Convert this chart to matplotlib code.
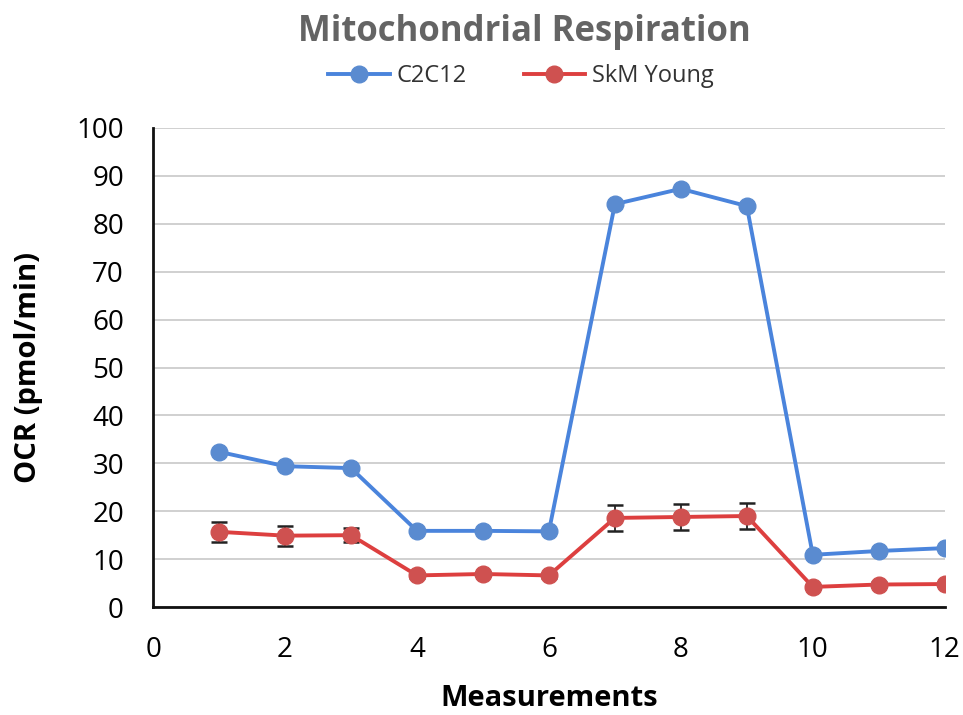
import matplotlib
matplotlib.use("Agg")
import matplotlib.pyplot as plt

measurements = list(range(1, 13))
c2c12 = [32.4, 29.4, 29.0, 15.9, 15.9, 15.8, 84.1, 87.3, 83.7, 10.9, 11.7, 12.3]
skm_young = [15.7, 14.9, 15.0, 6.6, 6.9, 6.6, 18.6, 18.8, 19.0, 4.2, 4.7, 4.8]
skm_err = [2.1, 2.1, 1.5, 0.5, 0.5, 0.5, 2.7, 2.7, 2.7, 0.5, 0.5, 0.5]

plt.rcParams["font.family"] = ["Open Sans", "DejaVu Sans"]

fig = plt.figure(figsize=(9.63, 7.15), dpi=100)
ax = fig.add_axes([0.159, 0.151, 0.822, 0.670])

ax.plot(measurements, c2c12, color="#4a84dc", lw=2.8, marker="o", ms=12,
        mfc="#5a8bd0", mec="#5a8bd0", label="C2C12", zorder=3)
# error bars first, then the line on top so the legend shows a plain line
ax.errorbar(measurements, skm_young, yerr=skm_err, fmt="none",
            ecolor="#222222", elinewidth=1.3, capsize=6, capthick=1.8, zorder=2)
ax.plot(measurements, skm_young, color="#dd3f3f", lw=2.8, marker="o", ms=12,
        mfc="#cf5150", mec="#cf5150", label="SkM Young", zorder=3)

ax.set_xlim(0, 12)
ax.set_ylim(0, 100)
ax.set_xticks(range(0, 13, 2))
ax.set_yticks(range(0, 101, 10))
ax.tick_params(length=0, labelsize=20, pad=21)
ax.grid(axis="y", color="#c8c8c8", lw=1.2)
ax.set_axisbelow(True)
for side in ("top", "right"):
    ax.spines[side].set_visible(False)
for side in ("left", "bottom"):
    ax.spines[side].set_linewidth(2)
    ax.spines[side].set_color("#111111")

ax.set_xlabel("Measurements", fontsize=21, fontweight="bold", labelpad=14)
ax.set_ylabel("OCR (pmol/min)", fontsize=21, fontweight="bold", labelpad=24)

fig.text(0.545, 0.955, "Mitochondrial Respiration", fontsize=25,
         fontweight="bold", color="#646464", ha="center", va="center")
fig.legend(loc="upper center", bbox_to_anchor=(0.541, 0.94), ncol=2,
           frameon=False, fontsize=17, handlelength=2.6, handletextpad=0.3,
           columnspacing=2.4, labelcolor="#333333")

fig.savefig("out.png", dpi=100)
